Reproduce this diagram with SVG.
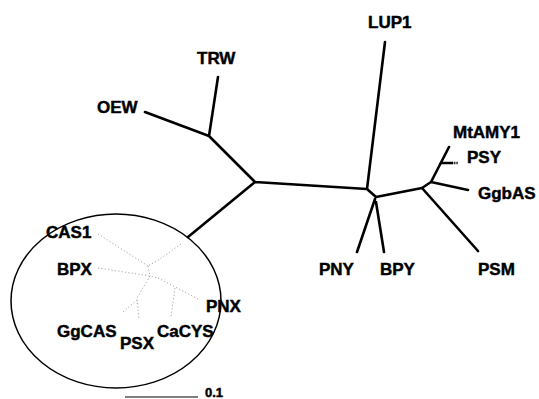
<svg xmlns="http://www.w3.org/2000/svg" width="539" height="399" viewBox="0 0 539 399">
<style>
.lbl{font-family:"Liberation Sans",Arial,sans-serif;font-weight:bold;font-size:17px;fill:#000;stroke:#000;stroke-width:0.45}
.br{stroke:#000;stroke-width:2.6;fill:none;stroke-linecap:round;stroke-linejoin:round}
.fb{stroke:#a8a8a8;stroke-width:1;fill:none;stroke-dasharray:1.2 2.2}
</style>
<rect width="539" height="399" fill="#fff"/>
<g id="connectors">
<path class="br" d="M145,112 L209,136 M218,77 L209,136 M209,136 L255,182 L367,189 M385,42 L367,189 M255,182 L188,237 M367,189 L376,197 L422,188 M375,199 L357,252 M376,202 L384,252 M422,188 L478,251 M422,188 L431,182 M431,182 L468,190 M431,182 L449,147"/>
<path class="br" d="M441,163 L452,163" stroke-width="2"/>
<path d="M452,163 L458,163" stroke="#000" stroke-width="2.4" stroke-dasharray="1.2 1" fill="none"/>
<g id="faint">
<path class="fb" d="M98,234 L148,266 M181,244 L160,259 L148,266 M98,268 L150,276 L158,278 M148,266 L150,276 M150,276 L137,298 L139,320 M137,300 L123,312 M158,278 L200,300 M175,288 L171,317"/>
</g>
<ellipse cx="116" cy="301" rx="105" ry="87" fill="none" stroke="#000" stroke-width="1.5"/>
<line x1="125" y1="397" x2="198" y2="397" stroke="#000" stroke-width="1.2"/>
</g>
<g id="LUP1"><text class="lbl" x="368" y="28">LUP1</text></g>
<g id="TRW"><text class="lbl" x="197" y="64">TRW</text></g>
<g id="OEW"><text class="lbl" x="97" y="113">OEW</text></g>
<g id="MtAMY1"><text class="lbl" x="453" y="138">MtAMY1</text></g>
<g id="PSY"><text class="lbl" x="467" y="163">PSY</text></g>
<g id="GgbAS"><text class="lbl" x="478" y="199">GgbAS</text></g>
<g id="PNY"><text class="lbl" x="319" y="275">PNY</text></g>
<g id="BPY"><text class="lbl" x="380" y="275">BPY</text></g>
<g id="PSM"><text class="lbl" x="478" y="275">PSM</text></g>
<g id="CAS1"><text class="lbl" x="46" y="238">CAS1</text></g>
<g id="BPX"><text class="lbl" x="57" y="275">BPX</text></g>
<g id="PNX"><text class="lbl" x="206" y="312">PNX</text></g>
<g id="GgCAS"><text class="lbl" x="57" y="337">GgCAS</text></g>
<g id="PSX"><text class="lbl" x="120" y="349">PSX</text></g>
<g id="CaCYS"><text class="lbl" x="157" y="337">CaCYS</text></g>
<g id="scale"><text class="lbl" x="205" y="397" style="font-size:13px">0.1</text></g>
</svg>
